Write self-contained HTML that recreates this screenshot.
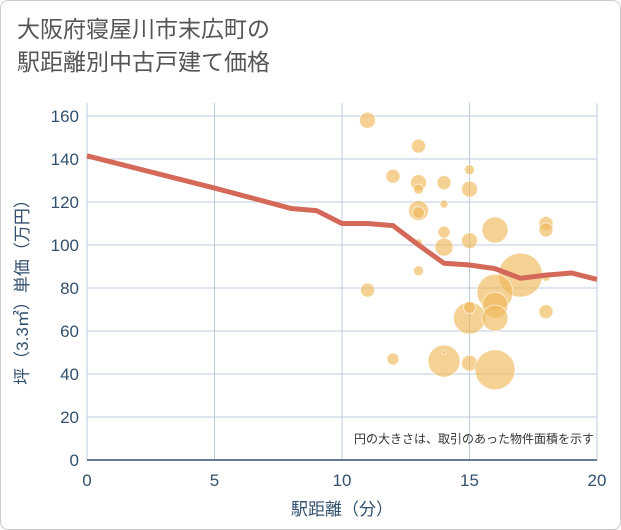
<!DOCTYPE html>
<html><head><meta charset="utf-8"><style>
body{margin:0;background:#fff;}
#wrap{position:relative;width:619px;height:528px;border:1px solid #ccc;border-radius:8px;overflow:hidden;font-family:"Liberation Sans","Noto Sans CJK JP",sans-serif;}
#title{position:absolute;left:16px;top:12px;font-size:23px;line-height:33px;color:#555;}
</style></head><body>
<div id="wrap">
<div id="title">大阪府寝屋川市末広町の<br>駅距離別中古戸建て価格</div>
<svg id="chart" width="621" height="530" style="position:absolute;left:-1px;top:-1px"></svg>
</div>
<script>
const xTicks=[0,5,10,15,20];
const yTicks=[0,20,40,60,80,100,120,140,160];
const lineX=[0,5,8,9,10,11,12,13,14,15,16,17,18,19,20];
const lineY=[141.5,126.5,117,116,110,110,109,100,91.5,90.7,89,84.5,86,87,84];
const bubX=[11,13,12,13,13,14,15,15,13,13,14,16,18,18,14,13,14,15,13,17,18,11,16,16,18,15,16,15,12,14,14,15,16];
const bubY=[158,146,132,129,126,129,135,126,116,115,119,107,110,107,106,101,99,102,88,86,85,79,78,72,69,66,66,71,47,46,50,45,42];
const bubR=[8,7,7,8,5,7,5,8,10,6,4,13,7,7,6,4,9,8,5,22,4,7,18,13,7,16,13,6,6,16,2,8,20];
const NS="http://www.w3.org/2000/svg";
const svg=document.getElementById('chart');
const X0=87,X1=597,Y0=460,Y1=116;
const sx=v=>X0+(X1-X0)*v/20;
const sy=v=>Y0-(Y0-Y1)*v/160;
function mk(t,a){const e=document.createElementNS(NS,t);for(const k in a)e.setAttribute(k,a[k]);svg.appendChild(e);return e;}
const bg=mk('rect',{x:X0,y:103,width:X1-X0,height:Y0-103,fill:'#fff'});


yTicks.forEach(v=>{
 const l=mk('line',{x1:X0,x2:X1,y1:sy(v),y2:sy(v),stroke:'#bccbdc','stroke-width':1});
 
 
 const t=mk('text',{x:X0-8,y:sy(v)+6,'text-anchor':'end','font-size':17,fill:'#33506e'});
 t.textContent=v;
 
 
});
xTicks.forEach(v=>{
 const l=mk('line',{x1:sx(v),x2:sx(v),y1:103,y2:Y0,stroke:'#bccbdc','stroke-width':1});
 
 
 const t=mk('text',{x:sx(v),y:486,'text-anchor':'middle','font-size':17,fill:'#33506e'});
 t.textContent=v;
 
 
});
const ax=mk('line',{x1:X0,x2:X1,y1:Y0,y2:Y0,stroke:'#33506e','stroke-width':1.5});


bubX.forEach((x,i)=>{
 const c=mk('circle',{cx:sx(x),cy:sy(bubY[i]),r:bubR[i],fill:'rgba(240,184,90,0.65)',stroke:'rgba(255,255,255,0.6)','stroke-width':1});
 
 
});
const p=mk('polyline',{points:lineX.map((x,i)=>sx(x)+','+sy(lineY[i])).join(' '),fill:'none',stroke:'#d4695a','stroke-width':5,'stroke-linejoin':'round'});


const n=mk('text',{x:594,y:443,'text-anchor':'end','font-size':12,fill:'#333'});
n.textContent='円の大きさは、取引のあった物件面積を示す';


const xt=mk('text',{x:342,y:515,'text-anchor':'middle','font-size':17,fill:'#33506e'});
xt.textContent='駅距離（分）';


const yt=mk('text',{x:0,y:0,'text-anchor':'middle','font-size':17,fill:'#33506e',transform:'translate(28,288) rotate(-90)'});
yt.textContent='坪（3.3㎡）単価（万円）';


</script>
</body></html>
